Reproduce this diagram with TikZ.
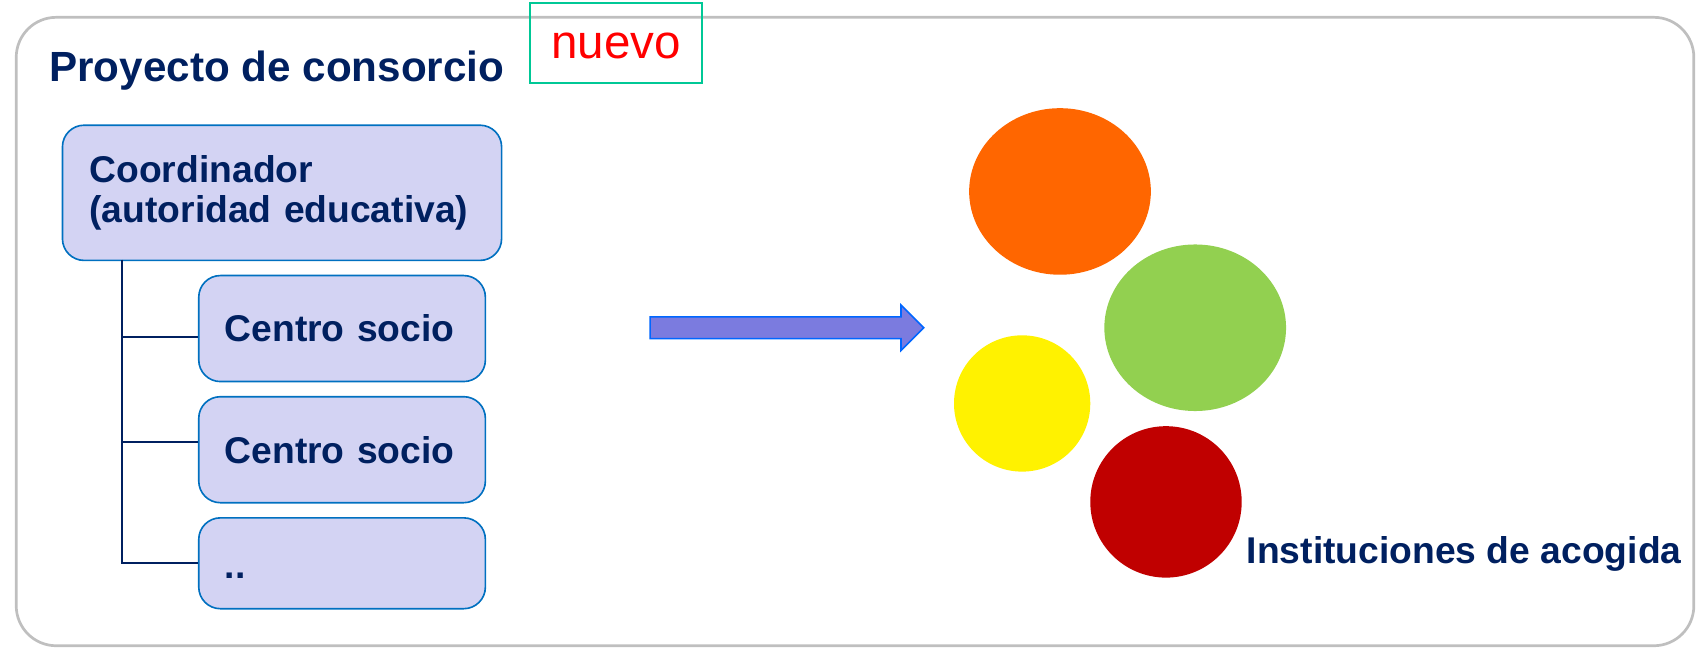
\documentclass[tikz,border=0pt]{standalone}
\usepackage{fontspec}
\setmainfont{Liberation Sans}
\definecolor{navy}{RGB}{0,32,96}
\definecolor{boxblue}{RGB}{0,112,192}
\definecolor{boxfill}{RGB}{211,211,243}
\definecolor{framegray}{RGB}{191,191,191}
\definecolor{nuevogreen}{RGB}{0,200,150}
\definecolor{arrowfill}{RGB}{123,123,223}
\definecolor{arrowline}{RGB}{0,102,255}
\definecolor{orangeball}{RGB}{255,102,0}
\definecolor{greenball}{RGB}{146,208,80}
\definecolor{redball}{RGB}{192,0,0}
\tikzset{
  boxstyle/.style={draw=boxblue, fill=boxfill, line width=0.15mm,
    rounded corners=2mm, align=left, anchor=north west, text=navy,
    font=\fontsize{9.8}{10.3}\selectfont\bfseries},
  socio/.style={boxstyle, minimum width=26.5mm, text width=21.7mm, inner xsep=2.4mm},
  tree/.style={draw=navy, line width=0.2mm},
}
\begin{document}
\begin{tikzpicture}[x=0.1mm, y=-0.1mm]
\useasboundingbox (0,0) rectangle (1568,599);

% marco
\draw[framegray, line width=0.25mm, rounded corners=3.7mm] (15,16) rectangle (1566,597);

\node[anchor=base west, inner sep=0pt, text=navy, font=\fontsize{11.1}{13}\selectfont\bfseries] (titulo) at (45,75) {Proyecto de consorcio};
\node[draw=nuevogreen, line width=0.15mm, minimum width=15.9mm, minimum height=7.4mm, text height=2.9mm, text depth=0pt, text=red, font=\fontsize{12.5}{14}\selectfont] (nuevo) at (569.5,40) {nuevo};

% organigrama
\node[boxstyle, minimum width=40.6mm, minimum height=12.5mm, text width=35.6mm, inner xsep=2.5mm] (coord) at (57,115) {Coordinador\\(autoridad educativa)};
\node[socio, minimum height=9.8mm] (socioA) at (183,254) {Centro socio};
\node[socio, minimum height=9.8mm] (socioB) at (183,366) {Centro socio};
\node[socio, minimum height=8.4mm, text height=2.8mm, text depth=0pt] (socioC) at (183,478) {..};

\coordinate (trunk) at (113,240);
\coordinate (ramaA) at ([yshift=-0.8mm]socioA.west);
\coordinate (ramaB) at ([yshift=0.7mm]socioB.west);
\draw[tree] (trunk) |- (socioC.west);
\draw[tree] (trunk |- ramaA) -- (ramaA);
\draw[tree] (trunk |- ramaB) -- (ramaB);

% flecha
\draw[draw=arrowline, fill=arrowfill, line width=0.15mm] (601,293) -- (833,293) -- (833,282) -- (854,303) -- (833,324) -- (833,313) -- (601,313) -- cycle;

% instituciones
\fill[orangeball] (980,177) ellipse [x radius=84, y radius=77];
\fill[greenball] (1105,303) ellipse [x radius=84, y radius=77];
\fill[yellow] (945,373) ellipse [x radius=63, y radius=63];
\fill[redball] (1078,464) ellipse [x radius=70, y radius=70];

\node[anchor=base west, inner sep=0pt, text=navy, font=\fontsize{9.8}{12}\selectfont\bfseries] (acogida) at (1152,521) {Instituciones de acogida};

\end{tikzpicture}
\end{document}
